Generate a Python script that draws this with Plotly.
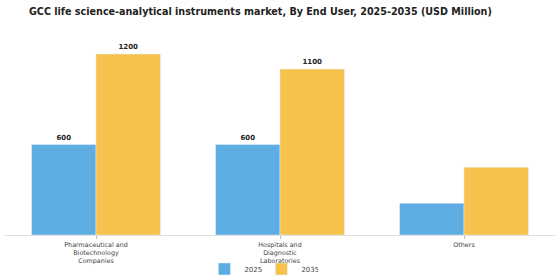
import plotly.graph_objects as go

categories = ["Pharmaceutical and<br>Biotechnology<br>Companies",
              "Hospitals and<br>Diagnostic<br>Laboratories",
              "Others"]
values_2025 = [600, 600, 210]
values_2035 = [1200, 1100, 450]
labels_2025 = ["<b>600</b>", "<b>600</b>", ""]
labels_2035 = ["<b>1200</b>", "<b>1100</b>", ""]

fig = go.Figure()
fig.add_trace(go.Bar(name="2025", x=categories, y=values_2025, marker_color="#5DADE2",
                     text=labels_2025, textposition="outside", cliponaxis=False,
                     textfont=dict(family="DejaVu Sans", size=7, color="#222")))
fig.add_trace(go.Bar(name="2035", x=categories, y=values_2035, marker_color="#F6C24C",
                     text=labels_2035, textposition="outside", cliponaxis=False,
                     textfont=dict(family="DejaVu Sans", size=7, color="#222")))

fig.update_layout(
    width=560, height=280,
    margin=dict(l=4, r=4, t=40, b=45, autoexpand=False),
    barmode="group", bargap=0.30, bargroupgap=0,
    paper_bgcolor="white", plot_bgcolor="white",
    title=dict(text="<b>GCC life science-analytical instruments market, By End User, 2025-2035 (USD Million)</b>",
               x=0.465, xanchor="center", y=0.96, yanchor="middle",
               font=dict(family="DejaVu Sans", size=9.6, color="#222")),
    xaxis=dict(showline=True, linecolor="#e0e0e0", ticks="outside", ticklen=3, tickcolor="#bbb",
               automargin=False,
               tickfont=dict(family="DejaVu Sans", size=6.4, color="#444")),
    yaxis=dict(visible=False, range=[0, 1293], automargin=False),
    legend=dict(orientation="h", x=0.363, xanchor="left", y=-0.1, yanchor="top",
                bgcolor="rgba(0,0,0,0)",
                font=dict(family="DejaVu Sans", size=7, color="#444"),
                itemwidth=30, entrywidth=12, traceorder="normal"),
    font=dict(family="DejaVu Sans"),
)
fig.update_traces(textangle=0)
fig.write_html("out.html")
